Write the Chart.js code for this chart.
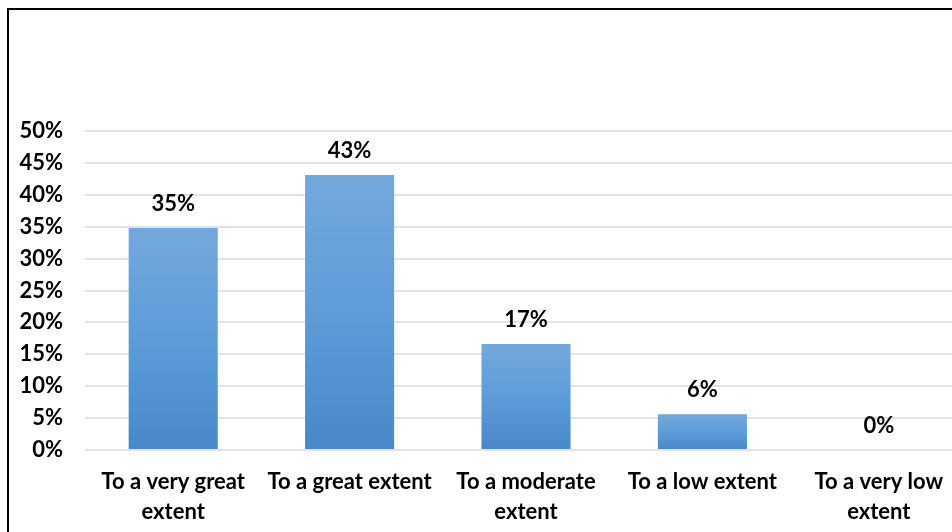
<!DOCTYPE html>
<html>
<head>
<meta charset="utf-8">
<script src="https://cdn.jsdelivr.net/npm/chart.js@4.4.1/dist/chart.umd.min.js"></script>
<style>
  html, body { margin: 0; padding: 0; background: #fff; overflow: hidden; }
  #marco {
    position: absolute; left: 7px; top: 8px;
    width: 1000px; height: 540px;
    border: 2px solid #000;
  }
</style>
</head>
<body>
<div id="marco"><canvas id="grafico" width="1000" height="540"></canvas></div>
<script>
const categorias = [
  ['To a very great', 'extent'],
  'To a great extent',
  ['To a moderate', 'extent'],
  'To a low extent',
  ['To a very low', 'extent']
];
const porcentajes = [34.8, 43.1, 16.6, 5.6, 0];
const marcasEjeY = [0, 5, 10, 15, 20, 25, 30, 35, 40, 45, 50];

const fuente = "Lato, 'Open Sans', sans-serif";

// degradado por barra, como en Excel
function colorBarra(ctx) {
  const chart = ctx.chart;
  const y = chart.scales.y;
  if (!chart.chartArea || !y) return '#5b9bd5';
  const v = ctx.raw || 0;
  const arriba = y.getPixelForValue(v);
  const abajo = y.getPixelForValue(0);
  if (abajo - arriba < 1) return '#5b9bd5';
  const g = chart.ctx.createLinearGradient(0, arriba, 0, abajo);
  g.addColorStop(0, '#74a8dc');
  g.addColorStop(0.5, '#5d9cd9');
  g.addColorStop(1, '#4888c8');
  return g;
}

const etiquetasBarras = {
  id: 'etiquetasBarras',
  afterDatasetsDraw(chart) {
    const ctx = chart.ctx;
    const meta = chart.getDatasetMeta(0);
    ctx.save();
    ctx.font = "bold 22px " + fuente;
    ctx.fillStyle = '#000';
    ctx.textAlign = 'center';
    ctx.textBaseline = 'middle';
    meta.data.forEach((barra, i) => {
      ctx.fillText(Math.round(porcentajes[i]) + '%', barra.x, barra.y - 24);
    });
    ctx.restore();
  }
};

new Chart(document.getElementById('grafico').getContext('2d'), {
  type: 'bar',
  data: {
    labels: categorias,
    datasets: [{
      data: porcentajes,
      backgroundColor: colorBarra,
      borderWidth: 0,
      barPercentage: 0.505,
      categoryPercentage: 1
    }]
  },
  options: {
    responsive: false,
    animation: false,
    layout: { padding: { top: 121, right: 42, left: 0, bottom: 0 } },
    plugins: {
      legend: { display: false },
      tooltip: { enabled: false }
    },
    scales: {
      x: {
        grid: { display: false, drawTicks: false },
        border: { display: false },
        ticks: {
          color: '#000',
          padding: 17,
          maxRotation: 0,
          autoSkip: false,
          font: { family: fuente, size: 22, weight: 'bold', lineHeight: 1.36 }
        },
        afterFit(s) { s.height = 100; }
      },
      y: {
        min: 0,
        max: 50,
        afterBuildTicks(s) { s.ticks = marcasEjeY.map(v => ({ value: v })); },
        grid: { color: '#e0e3e8', lineWidth: 2, drawTicks: false },
        border: { display: false },
        ticks: {
          color: '#000',
          padding: 22,
          font: { family: fuente, size: 22, weight: 'bold' },
          callback: v => v + '%'
        },
        afterFit(s) { s.width = 76; }
      }
    }
  },
  plugins: [etiquetasBarras]
});
</script>
</body>
</html>
